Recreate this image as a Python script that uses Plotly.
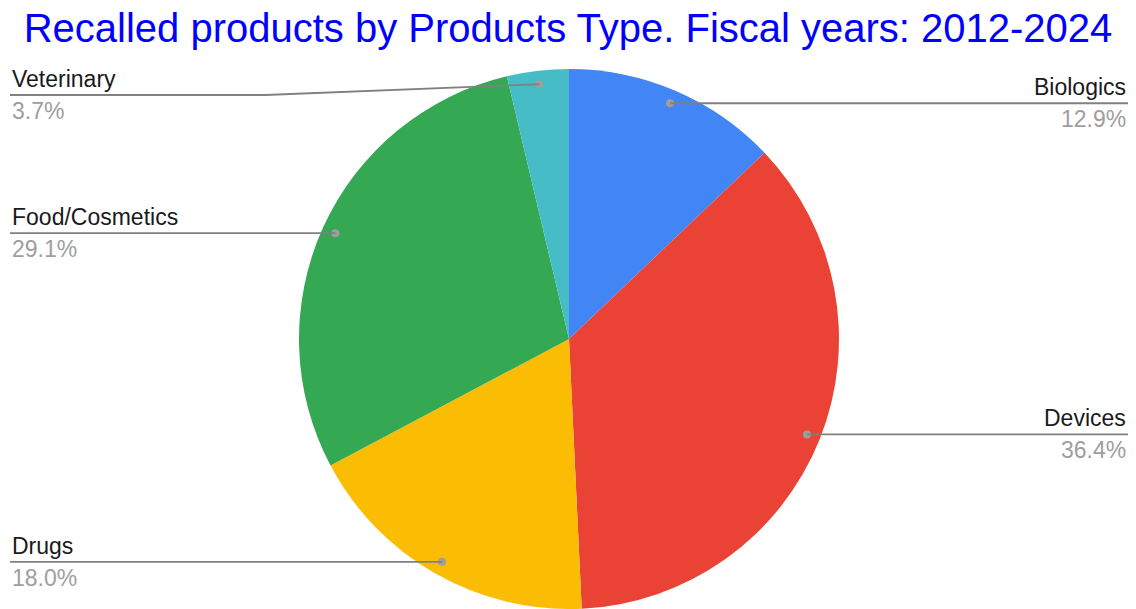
import plotly.graph_objects as go
import math

# ---- data ----
categories = ["Biologics", "Devices", "Drugs", "Food/Cosmetics", "Veterinary"]
shares = [12.9, 36.4, 18.0, 29.1, 3.7]
colors = ["#4285F4", "#EA4335", "#FBBC04", "#34A853", "#46BDC6"]
title_text = "Recalled products by Products Type. Fiscal years: 2012-2024"

# ---- layout constants (pixels) ----
W, H = 1136, 609
CX, CY, R = 569, 339, 270
DOT_FRAC = 0.95
MIN_LABEL_Y = 95
LEFT_X, RIGHT_X = 10, 1128
ELBOW_X = 265


def px(x):
    return x / W


def py(y):
    return 1 - y / H


fig = go.Figure()
fig.add_trace(go.Pie(
    labels=categories,
    values=shares,
    sort=False,
    direction="clockwise",
    rotation=0,
    marker=dict(colors=colors, line=dict(width=0)),
    textinfo="none",
    hoverinfo="label+percent",
    showlegend=False,
    domain=dict(x=[px(CX - R), px(CX + R)], y=[0, py(CY - R)]),
))

shapes = []
annotations = []
total = sum(shares)
cum = 0.0
line_col = "#808080"
for name, v in zip(categories, shares):
    mid = (cum + v / 2) / total * 2 * math.pi
    cum += v
    dx = CX + DOT_FRAC * R * math.sin(mid)
    dy = CY - DOT_FRAC * R * math.cos(mid)
    ly = max(dy, MIN_LABEL_Y)
    left = math.sin(mid) < 0
    # dot
    shapes.append(dict(type="circle", xref="paper", yref="paper",
                       xsizemode="pixel", ysizemode="pixel",
                       xanchor=px(dx), yanchor=py(dy),
                       x0=-4, x1=4, y0=-4, y1=4,
                       fillcolor="#9e9e9e", line=dict(width=0)))
    if left:
        if abs(ly - dy) > 0.5:
            shapes.append(dict(type="line", xref="paper", yref="paper",
                               x0=px(dx), y0=py(dy), x1=px(ELBOW_X), y1=py(ly),
                               line=dict(color=line_col, width=1.8)))
            startx = ELBOW_X
        else:
            startx = dx
        shapes.append(dict(type="line", xref="paper", yref="paper",
                           x0=px(LEFT_X), y0=py(ly), x1=px(startx), y1=py(ly),
                           line=dict(color=line_col, width=1.8)))
        ax, anchor = LEFT_X, "left"
    else:
        shapes.append(dict(type="line", xref="paper", yref="paper",
                           x0=px(dx), y0=py(ly), x1=px(RIGHT_X), y1=py(ly),
                           line=dict(color=line_col, width=1.8)))
        ax, anchor = RIGHT_X, "right"
    annotations.append(dict(x=px(ax), y=py(ly - 1), xref="paper", yref="paper",
                            text=name, showarrow=False, xanchor=anchor, yanchor="bottom",
                            font=dict(family="Liberation Sans, Arial", size=23, color="#1a1a1a")))
    annotations.append(dict(x=px(ax), y=py(ly + 1), xref="paper", yref="paper",
                            text=f"{v:.1f}%", showarrow=False, xanchor=anchor, yanchor="top",
                            font=dict(family="Liberation Sans, Arial", size=23, color="#9e9e9e")))

fig.update_layout(
    width=W, height=H,
    margin=dict(l=0, r=0, t=0, b=0),
    paper_bgcolor="white", plot_bgcolor="white",
    title=dict(text=title_text, x=0.5, xanchor="center", y=1 - 28 / H, yanchor="middle",
               font=dict(family="Liberation Sans, Arial", size=40, color="#0000FF")),
    shapes=shapes,
    annotations=annotations,
)

fig.write_html("out.html")
